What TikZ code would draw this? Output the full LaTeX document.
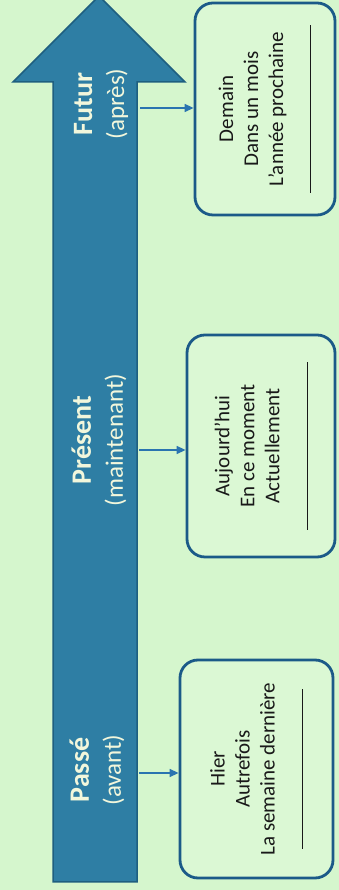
\documentclass[tikz,border=0pt]{standalone}
\usepackage{fontspec}
\setmainfont{Carlito}
\usetikzlibrary{arrows.meta}
\definecolor{bgc}{HTML}{D5F6CD}
\definecolor{arrowc}{HTML}{2E7EA4}
\definecolor{arrowd}{HTML}{1E5F80}
\definecolor{boxd}{HTML}{1B5A88}
\definecolor{boxf}{HTML}{DBF8D4}
\definecolor{conc}{HTML}{2A74B0}
\definecolor{labc}{HTML}{F2F7DC}
\begin{document}
\begin{tikzpicture}[x=1pt,y=1pt,
  timebox/.style={draw=boxd, line width=2.8pt, fill=boxf, rounded corners=18pt,
    rotate=90, align=center, inner sep=0pt, text=black!90,
    font=\fontsize{21}{25}\selectfont},
  biglab/.style={rotate=90, align=center, text=labc, inner sep=0pt,
    font=\fontsize{25}{32}\selectfont},
  conn/.style={draw=conc, line width=1.4pt, -{Triangle[length=9pt,width=8pt]}}]
\fill[bgc] (0,0) rectangle (339,890);
\useasboundingbox (0,0) rectangle (339,890);
% big time arrow
\filldraw[fill=arrowc, draw=arrowd, line width=1.5pt]
  (53,8) -- (53,808) -- (13,808) -- (99,894) -- (185,808) -- (137,808) -- (137,8) -- cycle;
% labels in the arrow
\node[biglab] (l1) at (101,786) {{\fontsize{28}{32}\selectfont\bfseries Futur}\\(après)};
\node[biglab] (l2) at (99,450) {{\fontsize{28}{32}\selectfont\bfseries Présent}\\(maintenant)};
\node[biglab] (l3) at (97,120) {{\fontsize{28}{32}\selectfont\bfseries Passé}\\(avant)};
% boxes
\node[timebox, minimum width=212pt, minimum height=140pt] (b1) at (265,781)
  {Demain\\Dans un mois\\L’année prochaine\\[3pt]\rule{168pt}{0.9pt}};
\node[timebox, minimum width=222pt, minimum height=148pt] (b2) at (261,444)
  {Aujourd’hui\\En ce moment\\Actuellement\\[3pt]\rule{168pt}{0.9pt}};
\node[timebox, minimum width=218pt, minimum height=153pt] (b3) at (256.5,121)
  {Hier\\Autrefois\\La semaine dernière\\[3pt]\rule{160pt}{0.9pt}};
% connectors
\coordinate (s1) at (140,782);
\coordinate (s2) at (139,440);
\coordinate (s3) at (139,117);
\draw[conn] (s1) -- (s1 -| b1.north);
\draw[conn] (s2) -- (s2 -| b2.north);
\draw[conn] (s3) -- (s3 -| b3.north);
\end{tikzpicture}
\end{document}
